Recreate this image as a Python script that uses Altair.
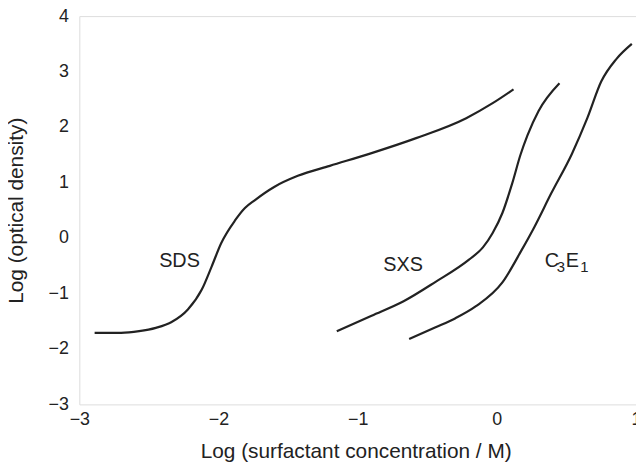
import altair as alt
import pandas as pd

# SDS curve
sds_x = [-2.89, -2.7, -2.57, -2.45, -2.34, -2.22, -2.12, -2.05, -1.98, -1.88, -1.81, -1.74, -1.6, -1.43, -1.2, -0.9, -0.58, -0.22, -0.03, 0.12]
sds_y = [-1.71, -1.71, -1.68, -1.62, -1.52, -1.29, -0.93, -0.52, -0.09, 0.32, 0.54, 0.68, 0.92, 1.12, 1.30, 1.53, 1.80, 2.16, 2.43, 2.68]

# SXS curve
sxs_x = [-1.15, -0.9, -0.67, -0.44, -0.2, -0.1, -0.03, 0.04, 0.11, 0.17, 0.22, 0.30, 0.45]
sxs_y = [-1.68, -1.40, -1.14, -0.79, -0.39, -0.17, 0.09, 0.45, 0.98, 1.50, 1.85, 2.29, 2.79]

# C3E1 curve
c3e1_x = [-0.63, -0.44, -0.3, -0.15, 0.04, 0.18, 0.27, 0.39, 0.54, 0.65, 0.75, 0.86, 0.97]
c3e1_y = [-1.82, -1.61, -1.45, -1.23, -0.80, -0.21, 0.20, 0.80, 1.52, 2.16, 2.82, 3.23, 3.50]

# curve labels (text pieces, anchor in data coordinates)
lab_text = ["SDS", "SXS", "C", "3", "E", "1"]
lab_x = [-2.28, -0.673, 0.345, 0.43, 0.495, 0.6]
lab_y = [-0.52, -0.59, -0.518, -0.607, -0.518, -0.607]
lab_sub = [False, False, False, True, False, True]

x_ticks = [-3, -2, -1, 0, 1]
y_ticks = [-3, -2, -1, 0, 1, 2, 3, 4]

rows = []
for name, xs, ys in [("SDS", sds_x, sds_y), ("SXS", sxs_x, sxs_y), ("C3E1", c3e1_x, c3e1_y)]:
    for i, (a, b) in enumerate(zip(xs, ys)):
        rows.append({"series": name, "x": a, "y": b, "order": i})
df = pd.DataFrame(rows)

labels = pd.DataFrame({"text": lab_text, "x": lab_x, "y": lab_y, "sub": lab_sub})
centered = labels.iloc[:2]
pieces = labels.iloc[2:]
main_pieces = pieces[~pieces["sub"]]
sub_pieces = pieces[pieces["sub"]]

FONT = "Liberation Sans"

xscale = alt.Scale(domain=[-3, 1], nice=False, zero=False)
yscale = alt.Scale(domain=[-3, 4], nice=False, zero=False)

xaxis = alt.Axis(values=x_ticks, format="d", title="Log (surfactant concentration / M)", grid=False,
                 domain=False, ticks=False, labelPadding=6, labelFontSize=18,
                 labelFont=FONT, labelColor="#222", titleFont=FONT, titleFontSize=21,
                 titleFontWeight="normal", titleColor="#222", titleX=279, titleY=54,
                 titleAlign="center", titleBaseline="alphabetic", labelFlush=False,
                 labelOverlap=False)
yaxis = alt.Axis(values=y_ticks, format="d", title="Log (optical density)", grid=False,
                 domain=False, ticks=False, labelPadding=11, labelFontSize=18,
                 labelFont=FONT, labelColor="#222", titleFont=FONT, titleFontSize=21,
                 titleFontWeight="normal", titleColor="#222", titleX=-63, titleY=196,
                 titleAlign="center", titleBaseline="middle", titleAngle=270,
                 labelFlush=False, labelOverlap=False)

lines = alt.Chart(df).mark_line(interpolate="monotone", color="#222", strokeWidth=2.2).encode(
    x=alt.X("x:Q", scale=xscale, axis=xaxis),
    y=alt.Y("y:Q", scale=yscale, axis=yaxis),
    detail="series:N",
    order="order:Q",
)

text_c = alt.Chart(centered).mark_text(font=FONT, fontSize=20, color="#222",
                                       align="center", baseline="alphabetic").encode(
    x=alt.X("x:Q", scale=xscale), y=alt.Y("y:Q", scale=yscale), text="text:N")
text_m = alt.Chart(main_pieces).mark_text(font=FONT, fontSize=20, color="#222",
                                          align="left", baseline="alphabetic").encode(
    x=alt.X("x:Q", scale=xscale), y=alt.Y("y:Q", scale=yscale), text="text:N")
text_s = alt.Chart(sub_pieces).mark_text(font=FONT, fontSize=15, color="#222",
                                         align="left", baseline="alphabetic").encode(
    x=alt.X("x:Q", scale=xscale), y=alt.Y("y:Q", scale=yscale), text="text:N")

chart = alt.layer(lines, text_c, text_m, text_s).properties(
    width=562, height=392,
    autosize=alt.AutoSizeParams(type="none"),
    padding={"left": 72, "top": 6, "right": 0, "bottom": 58},
).configure_view(stroke="#555", strokeWidth=1.6).configure(background="white")

chart.save("out.html", embed_options={"renderer": "svg", "actions": False})
